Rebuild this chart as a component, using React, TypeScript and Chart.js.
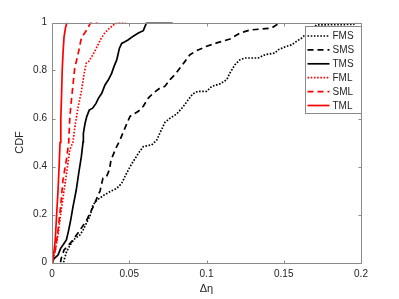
import React, { useEffect, useRef } from "react";
import { Chart, registerables } from "chart.js";

Chart.register(...registerables);

// ---- Data ----
const seriesNames = ["FMS", "SMS", "TMS", "FML", "SML", "TML"];

const fmsX = [0.0075, 0.0078, 0.0094, 0.0117, 0.0149, 0.0181, 0.0201, 0.0222, 0.0246, 0.0265, 0.0291, 0.0337, 0.0375, 0.0419, 0.0451, 0.0483, 0.0505, 0.0526, 0.0559, 0.0591, 0.0645, 0.0678, 0.0699, 0.0731, 0.0764, 0.0807, 0.0845, 0.0877, 0.091, 0.0942, 0.1001, 0.1034, 0.1087, 0.1131, 0.1152, 0.1184, 0.1217, 0.1249, 0.1335, 0.1379, 0.1443, 0.1465, 0.1519, 0.1551, 0.1584, 0.1616, 0.1648, 0.1676, 0.1713, 0.195, 0.1968];
const fmsY = [0, 0.01, 0.044, 0.073, 0.1, 0.115, 0.135, 0.163, 0.194, 0.24, 0.26, 0.281, 0.295, 0.309, 0.33, 0.372, 0.399, 0.421, 0.455, 0.483, 0.49, 0.51, 0.54, 0.584, 0.601, 0.619, 0.646, 0.674, 0.702, 0.713, 0.713, 0.734, 0.744, 0.762, 0.79, 0.824, 0.845, 0.852, 0.852, 0.866, 0.873, 0.887, 0.901, 0.907, 0.922, 0.935, 0.955, 0.973, 0.99, 0.992, 1];

const smsX = [0.0055, 0.006, 0.0078, 0.0108, 0.0136, 0.0181, 0.0225, 0.0246, 0.0267, 0.0285, 0.0311, 0.033, 0.0354, 0.0371, 0.0382, 0.0414, 0.044, 0.0472, 0.0505, 0.0559, 0.0591, 0.0623, 0.0656, 0.0699, 0.0731, 0.0764, 0.0796, 0.0828, 0.0861, 0.0893, 0.0937, 0.1001, 0.1066, 0.1152, 0.1217, 0.1282, 0.1357, 0.1422, 0.1476];
const smsY = [0, 0.018, 0.052, 0.073, 0.094, 0.135, 0.177, 0.206, 0.233, 0.26, 0.298, 0.352, 0.36, 0.385, 0.427, 0.477, 0.51, 0.56, 0.609, 0.63, 0.651, 0.685, 0.706, 0.727, 0.734, 0.762, 0.783, 0.81, 0.838, 0.866, 0.883, 0.901, 0.915, 0.931, 0.956, 0.969, 0.973, 0.977, 1];

const tmsX = [0.0003, 0.0006, 0.0017, 0.0039, 0.0056, 0.0071, 0.0093, 0.0108, 0.0121, 0.0136, 0.0157, 0.0173, 0.019, 0.0201, 0.0203, 0.0214, 0.0225, 0.0241, 0.0263, 0.0285, 0.03, 0.0322, 0.0343, 0.0364, 0.0386, 0.0401, 0.0419, 0.0429, 0.0436, 0.0451, 0.0472, 0.0494, 0.0526, 0.0559, 0.0591, 0.0602, 0.0613, 0.0781];
const tmsY = [0, 0.01, 0.018, 0.031, 0.059, 0.073, 0.094, 0.135, 0.177, 0.233, 0.302, 0.372, 0.441, 0.503, 0.538, 0.58, 0.608, 0.635, 0.643, 0.663, 0.684, 0.705, 0.74, 0.76, 0.788, 0.816, 0.844, 0.872, 0.892, 0.913, 0.92, 0.928, 0.943, 0.956, 0.966, 0.984, 1, 1];

const fmlX = [0.0003, 0.0019, 0.0039, 0.0058, 0.0078, 0.0097, 0.0115, 0.0136, 0.0147, 0.0168, 0.019, 0.0207, 0.0222, 0.0238, 0.0265, 0.0293, 0.0319, 0.0341, 0.0373, 0.0406, 0.043, 0.048];
const fmlY = [0, 0.044, 0.115, 0.21, 0.3, 0.385, 0.469, 0.503, 0.56, 0.644, 0.713, 0.783, 0.831, 0.838, 0.866, 0.901, 0.935, 0.956, 0.977, 0.994, 1, 1];

const smlX = [0.0003, 0.0006, 0.0021, 0.0039, 0.0056, 0.0071, 0.0093, 0.0108, 0.0115, 0.0125, 0.0136, 0.0147, 0.0168, 0.019, 0.0233, 0.025, 0.0295];
const smlY = [0, 0.019, 0.052, 0.135, 0.233, 0.344, 0.427, 0.498, 0.602, 0.673, 0.741, 0.81, 0.866, 0.935, 0.977, 1, 1];

const tmlX = [0.0003, 0.001, 0.0021, 0.003, 0.0039, 0.0046, 0.0052, 0.0057, 0.0062, 0.0066, 0.0072, 0.0078, 0.0088, 0.0097];
const tmlY = [0, 0.03, 0.094, 0.2, 0.3, 0.4, 0.5, 0.6, 0.7, 0.8, 0.88, 0.94, 0.98, 1];

const xTickValues = [0, 0.05, 0.1, 0.15, 0.2];
const xTickLabels = ["0", "0.05", "0.1", "0.15", "0.2"];
const yTickValues = [0, 0.2, 0.4, 0.6, 0.8, 1];
const yTickLabels = ["0", "0.2", "0.4", "0.6", "0.8", "1"];

const xTitle = "Δη";
const yTitle = "CDF";

const FONT = "'Liberation Sans', Arial, Helvetica, sans-serif";
const TEXT = "#262626";
const AXIS = "#8a8a8a";

const toPts = (xs: number[], ys: number[]) => xs.map((x, i) => ({ x, y: ys[i] }));

const frameLegendPlugin = {
  id: "frameLegend",
  afterDatasetsDraw(chart: any) {
    const { ctx, chartArea } = chart;
    const { left, right, top, bottom } = chartArea;
    const xs = chart.scales.x;
    const ys = chart.scales.y;
    ctx.save();
    ctx.strokeStyle = AXIS;
    ctx.lineWidth = 1;
    ctx.setLineDash([]);
    const L = Math.round(left) + 0.5;
    const R = Math.round(right) + 0.5;
    const T = Math.round(top) + 0.5;
    const B = Math.round(bottom) + 0.5;
    ctx.beginPath();
    ctx.rect(L, T, R - L, B - T);
    ctx.stroke();
    const tl = 3;
    ctx.beginPath();
    xTickValues.forEach((v) => {
      const px = Math.round(xs.getPixelForValue(v)) + 0.5;
      ctx.moveTo(px, B);
      ctx.lineTo(px, B - tl);
      ctx.moveTo(px, T);
      ctx.lineTo(px, T + tl);
    });
    yTickValues.forEach((v) => {
      const py = Math.round(ys.getPixelForValue(v)) + 0.5;
      ctx.moveTo(L, py);
      ctx.lineTo(L + tl, py);
      ctx.moveTo(R, py);
      ctx.lineTo(R - tl, py);
    });
    ctx.stroke();

    // legend box
    const bw = 56;
    const bh = 87;
    const bx = R - bw;
    const by = T + 3;
    ctx.fillStyle = "#ffffff";
    ctx.fillRect(bx, by, bw, bh);
    ctx.strokeStyle = AXIS;
    ctx.strokeRect(bx, by, bw, bh);
    ctx.font = `10px ${FONT}`;
    ctx.textBaseline = "middle";
    ctx.textAlign = "left";
    chart.data.datasets.forEach((ds: any, i: number) => {
      const yy = by + 9.5 + i * 13.9;
      ctx.strokeStyle = ds.borderColor;
      ctx.lineWidth = ds.borderWidth;
      ctx.setLineDash(ds.borderDash || []);
      ctx.beginPath();
      ctx.moveTo(bx + 2, yy);
      ctx.lineTo(bx + 24, yy);
      ctx.stroke();
      ctx.setLineDash([]);
      ctx.fillStyle = TEXT;
      ctx.fillText(ds.label, bx + 27, yy + 0.5);
    });
    ctx.restore();
  },
};

export default function App() {
  const ref = useRef<HTMLCanvasElement | null>(null);
  useEffect(() => {
    if (!ref.current) return;
    const dotted = [1.6, 1.6];
    const dashed = [6, 4];
    const mk = (i: number, xs: number[], ys: number[], color: string, dash: number[], order: number) => ({
      label: seriesNames[i],
      data: toPts(xs, ys),
      borderColor: color,
      backgroundColor: color,
      borderWidth: 1.7,
      borderDash: dash,
      pointRadius: 0,
      tension: 0,
      fill: false,
      order,
    });
    const chart = new Chart(ref.current, {
      type: "line",
      data: {
        datasets: [
          mk(0, fmsX, fmsY, "#000000", dotted, 6),
          mk(1, smsX, smsY, "#000000", dashed, 5),
          mk(2, tmsX, tmsY, "#000000", [], 4),
          mk(3, fmlX, fmlY, "#ff0000", dotted, 3),
          mk(4, smlX, smlY, "#ff0000", dashed, 2),
          mk(5, tmlX, tmlY, "#ff0000", [], 1),
        ] as any,
      },
      options: {
        animation: false,
        responsive: false,
        maintainAspectRatio: false,
        layout: { padding: { top: 22.5, right: 38, left: 0, bottom: 0 } },
        plugins: { legend: { display: false }, tooltip: { enabled: false } },
        scales: {
          x: {
            type: "linear",
            min: 0,
            max: 0.2,
            afterBuildTicks: (s: any) => {
              s.ticks = xTickValues.map((v) => ({ value: v }));
            },
            afterFit: (s: any) => {
              s.height = 36.5;
            },
            ticks: {
              autoSkip: false,
              maxRotation: 0,
              padding: 6,
              color: TEXT,
              font: { family: FONT, size: 10 },
              callback: (_v: any, i: number) => xTickLabels[i],
            },
            grid: { display: false, drawTicks: false },
            border: { display: false },
            title: {
              display: true,
              text: xTitle,
              color: TEXT,
              font: { family: FONT, size: 11 },
              padding: { top: 0, bottom: 3 },
            },
          },
          y: {
            type: "linear",
            min: 0,
            max: 1,
            afterBuildTicks: (s: any) => {
              s.ticks = yTickValues.map((v) => ({ value: v }));
            },
            afterFit: (s: any) => {
              s.width = 52;
            },
            ticks: {
              autoSkip: false,
              padding: 5,
              color: TEXT,
              font: { family: FONT, size: 10 },
              callback: (_v: any, i: number) => yTickLabels[i],
            },
            grid: { display: false, drawTicks: false },
            border: { display: false },
            title: {
              display: true,
              text: yTitle,
              color: TEXT,
              font: { family: FONT, size: 11 },
              padding: { top: 13, bottom: 0 },
            },
          },
        },
      } as any,
      plugins: [frameLegendPlugin],
    });
    return () => chart.destroy();
  }, []);
  return (
    <div style={{ position: "absolute", left: 0, top: 0, width: 399, height: 299, background: "#fff" }}>
      <canvas ref={ref} width={399} height={299} style={{ display: "block", width: 399, height: 299 }} />
    </div>
  );
}
